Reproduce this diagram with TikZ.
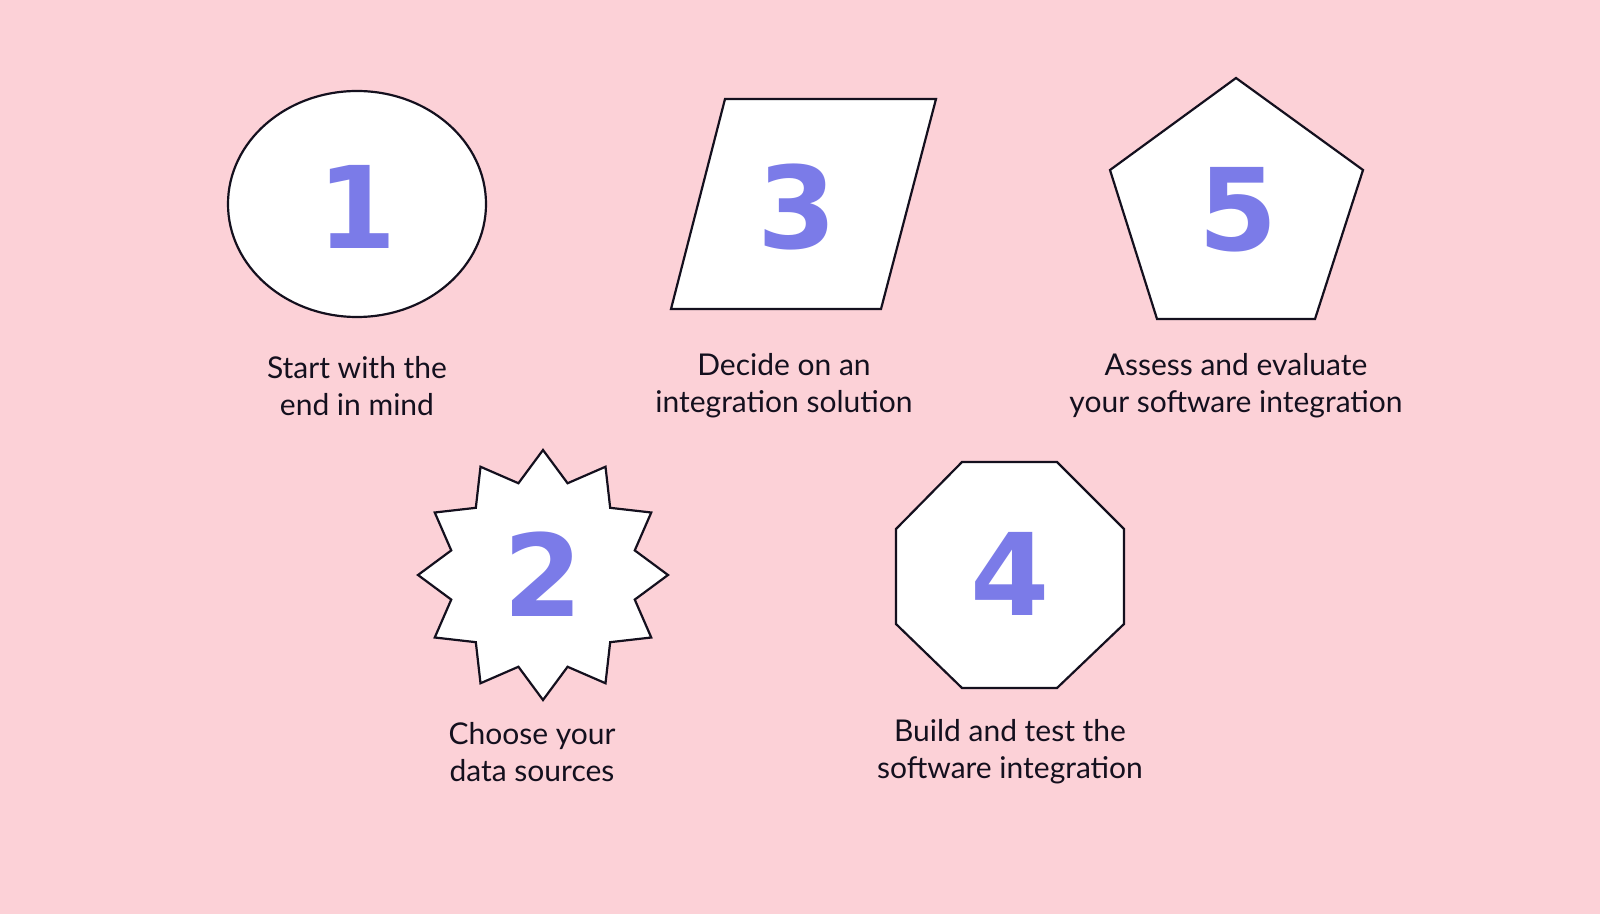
\documentclass[tikz,border=0pt]{standalone}
\usepackage{fontspec}
\setmainfont{Lato}
\newfontfamily\digitfont{DejaVu Sans}
\definecolor{bgpink}{HTML}{FCD1D7}
\definecolor{digitblue}{HTML}{7B7BE8}
\definecolor{inkline}{HTML}{14101E}
\begin{document}
\begin{tikzpicture}[x=0.5pt,y=-0.5pt,
    shapeline/.style={draw=inkline, line width=1.1pt, fill=white, line join=miter},
    num/.style={font=\digitfont\bfseries\fontsize{57}{57}\selectfont, text=digitblue},
    caption/.style={align=center, font=\fontsize{15}{18.5}\selectfont, text=inkline}]
    \useasboundingbox (0,0) rectangle (1600,914);
    \fill[bgpink] (0,0) rectangle (1600,914);

    % shapes
    \draw[shapeline] (357,204) ellipse [x radius=129, y radius=113];
    \draw[shapeline] (725,99) -- (936,99) -- (881,309) -- (671,309) -- cycle;
    \draw[shapeline] (1236,78) -- (1363,170) -- (1315,319) -- (1157,319) -- (1110,170) -- cycle;
    \draw[shapeline] (543,575) +(90:125)
      \foreach \a in {0,30,...,330} { -- +(90+\a:125) -- +(105+\a:95) } -- cycle;
    \draw[shapeline] (962,462) -- (1057,462) -- (1124,529) -- (1124,624) -- (1057,688)
      -- (962,688) -- (896,624) -- (896,529) -- cycle;

    % numbers
    \node[num] (one) at (357,207) {1};
    \node[num] (three) at (797,207) {3};
    \node[num] (five) at (1238,210) {5};
    \node[num] (two) at (543,574) {2};
    \node[num] (four) at (1010,574) {4};

    % captions
    \node[caption] (starttext) at (357,386) {Start with the\\end in mind};
    \node[caption] (decidetext) at (784,386) {Decide on an\\integration solution};
    \node[caption] (assesstext) at (1236,386) {Assess and evaluate\\your software integration};
    \node[caption] (choosetext) at (532,752) {Choose your\\data sources};
    \node[caption] (buildtext) at (1010,752) {Build and test the\\software integration};
\end{tikzpicture}
\end{document}
